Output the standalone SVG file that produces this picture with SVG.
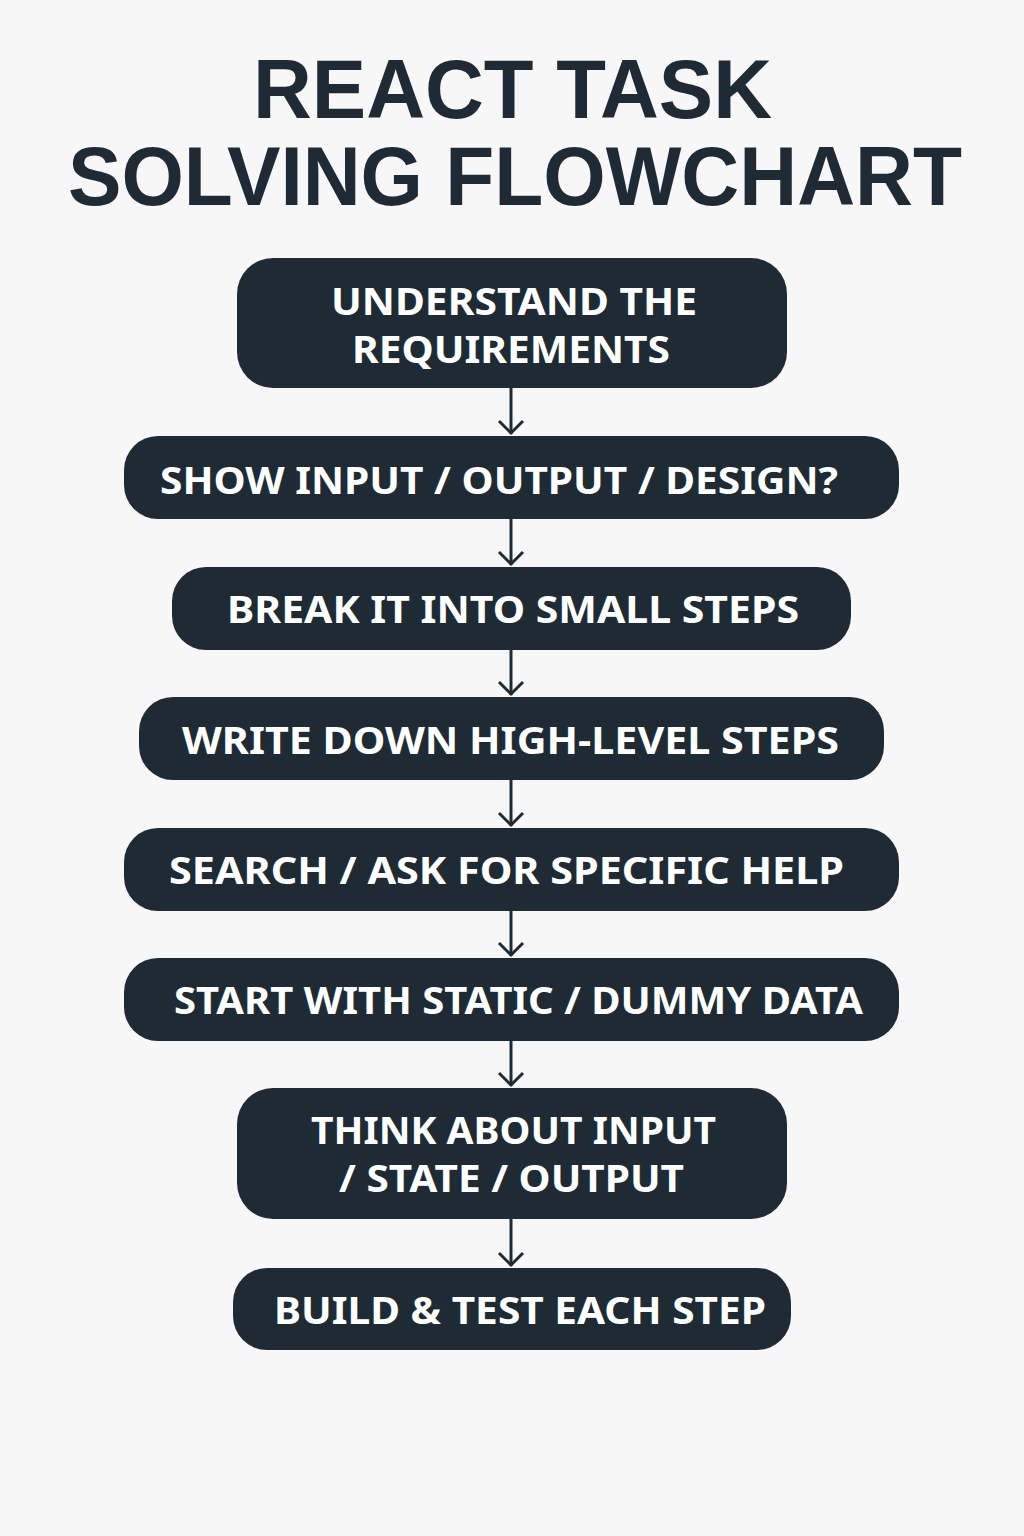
<svg xmlns="http://www.w3.org/2000/svg" width="1024" height="1536" viewBox="0 0 1024 1536">
<style>
.bg{fill:#f7f7f7}
.title{font-family:"Liberation Sans",Arial,sans-serif;font-weight:bold;font-size:84px;fill:#1e2b35}
.box{fill:#1e2b35}
.lbl{font-family:"Noto Sans","Open Sans",sans-serif;font-weight:bold;font-size:38px;fill:#ffffff}
.conn line{stroke:#1e2b35;stroke-width:3}
.conn polyline{fill:none;stroke:#1e2b35;stroke-width:3}
</style>
<rect class="bg" x="0" y="0" width="1024" height="1536"/>
<g id="title">
<text class="title" x="253" y="118" textLength="519" lengthAdjust="spacingAndGlyphs">REACT TASK</text>
<text class="title" x="68" y="205" textLength="894" lengthAdjust="spacingAndGlyphs">SOLVING FLOWCHART</text>
</g>
<g class="conn" id="connectors">
<line x1="511" y1="388" x2="511" y2="434"/><polyline points="499,421 511,433 523,421"/>
<line x1="511" y1="519" x2="511" y2="565"/><polyline points="499,552 511,564 523,552"/>
<line x1="511" y1="650" x2="511" y2="695"/><polyline points="499,682 511,694 523,682"/>
<line x1="511" y1="780" x2="511" y2="826"/><polyline points="499,813 511,825 523,813"/>
<line x1="511" y1="911" x2="511" y2="956"/><polyline points="499,943 511,955 523,943"/>
<line x1="511" y1="1041" x2="511" y2="1086"/><polyline points="499,1073 511,1085 523,1073"/>
<line x1="511" y1="1219" x2="511" y2="1266"/><polyline points="499,1253 511,1265 523,1253"/>
</g>
<g id="n1"><rect class="box" x="237" y="258" width="550" height="130" rx="36"/>
<text class="lbl" x="331" y="315" textLength="366" lengthAdjust="spacingAndGlyphs">UNDERSTAND THE</text>
<text class="lbl" x="352" y="363" textLength="318" lengthAdjust="spacingAndGlyphs">REQUIREMENTS</text></g>
<g id="n2"><rect class="box" x="124" y="436" width="775" height="83" rx="34"/>
<text class="lbl" x="160" y="494" textLength="678" lengthAdjust="spacingAndGlyphs">SHOW INPUT / OUTPUT / DESIGN?</text></g>
<g id="n3"><rect class="box" x="172" y="567" width="679" height="83" rx="34"/>
<text class="lbl" x="227" y="623" textLength="572" lengthAdjust="spacingAndGlyphs">BREAK IT INTO SMALL STEPS</text></g>
<g id="n4"><rect class="box" x="139" y="697" width="745" height="83" rx="34"/>
<text class="lbl" x="182" y="754" textLength="657" lengthAdjust="spacingAndGlyphs">WRITE DOWN HIGH-LEVEL STEPS</text></g>
<g id="n5"><rect class="box" x="124" y="828" width="775" height="83" rx="34"/>
<text class="lbl" x="169" y="884" textLength="675" lengthAdjust="spacingAndGlyphs">SEARCH / ASK FOR SPECIFIC HELP</text></g>
<g id="n6"><rect class="box" x="124" y="958" width="775" height="83" rx="34"/>
<text class="lbl" x="174" y="1014" textLength="689" lengthAdjust="spacingAndGlyphs">START WITH STATIC / DUMMY DATA</text></g>
<g id="n7"><rect class="box" x="237" y="1088" width="550" height="131" rx="36"/>
<text class="lbl" x="311" y="1144" textLength="405" lengthAdjust="spacingAndGlyphs">THINK ABOUT INPUT</text>
<text class="lbl" x="339" y="1192" textLength="345" lengthAdjust="spacingAndGlyphs">/ STATE / OUTPUT</text></g>
<g id="n8"><rect class="box" x="233" y="1268" width="558" height="82" rx="34"/>
<text class="lbl" x="274" y="1324" textLength="492" lengthAdjust="spacingAndGlyphs">BUILD &amp; TEST EACH STEP</text></g>
</svg>
